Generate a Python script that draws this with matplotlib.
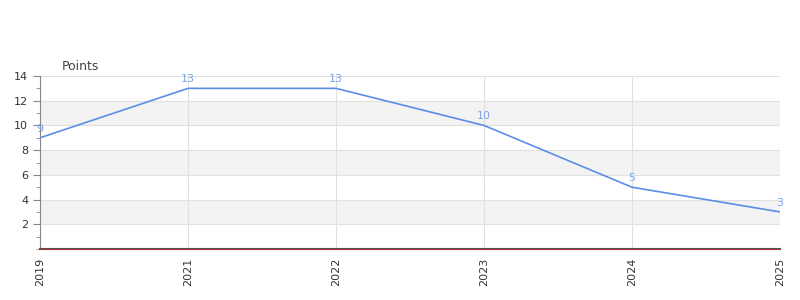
import matplotlib
matplotlib.use("Agg")
import matplotlib.pyplot as plt
from matplotlib.ticker import MultipleLocator

categories = ["2019", "2021", "2022", "2023", "2024", "2025"]
values = [9, 13, 13, 10, 5, 3]
y_ticks = [2, 4, 6, 8, 10, 12, 14]

plt.rcParams['font.family'] = ['DejaVu Sans']
fig = plt.figure(figsize=(8, 3), dpi=100)
ax = fig.add_axes([40/800, 1-249/300, 740/800, 173/300])

x = list(range(len(categories)))
ax.set_xlim(0, len(categories)-1)
ax.set_ylim(0, 14)

for lo in (2, 6, 10):
    ax.axhspan(lo, lo+2, color="#f3f3f3", zorder=0, lw=0)
for t in y_ticks:
    ax.axhline(t, color="#e0e0e0", lw=0.8, zorder=1)
for xi in x:
    ax.axvline(xi, color="#e0e0e0", lw=0.8, zorder=1)

ax.plot(x, values, color="#5b8ee6", lw=1.2, zorder=3)
for xi, v in zip(x, values):
    ax.annotate(str(v), (xi, v), xytext=(0, 3), textcoords="offset points",
                ha="center", va="bottom", fontsize=8, color="#7aa3e8", zorder=5)

ax.set_yticks(y_ticks)
ax.yaxis.set_minor_locator(MultipleLocator(1))
ax.set_xticks(x)
ax.set_xticklabels(categories, rotation=90)
ax.tick_params(axis="both", labelsize=8, colors="#333333")
ax.tick_params(axis="y", which="both", color="#888888")
ax.tick_params(axis="y", which="major", length=5)
ax.tick_params(axis="y", which="minor", length=3)
ax.tick_params(axis="x", length=0, pad=6)

for s in ("top", "right"):
    ax.spines[s].set_visible(False)
ax.spines["left"].set_color("#888888")
ax.spines["bottom"].set_color("#555555")
ax.spines["bottom"].set_linewidth(1.5)
ax.spines["bottom"].set_zorder(4)
ax.axhline(0, color="#d62020", lw=0.5, zorder=6, clip_on=False)

fig.text(62/800, 1-66/300, "Points", fontsize=9, color="#444444", va="center", ha="left")

fig.savefig("out.png", dpi=100)
